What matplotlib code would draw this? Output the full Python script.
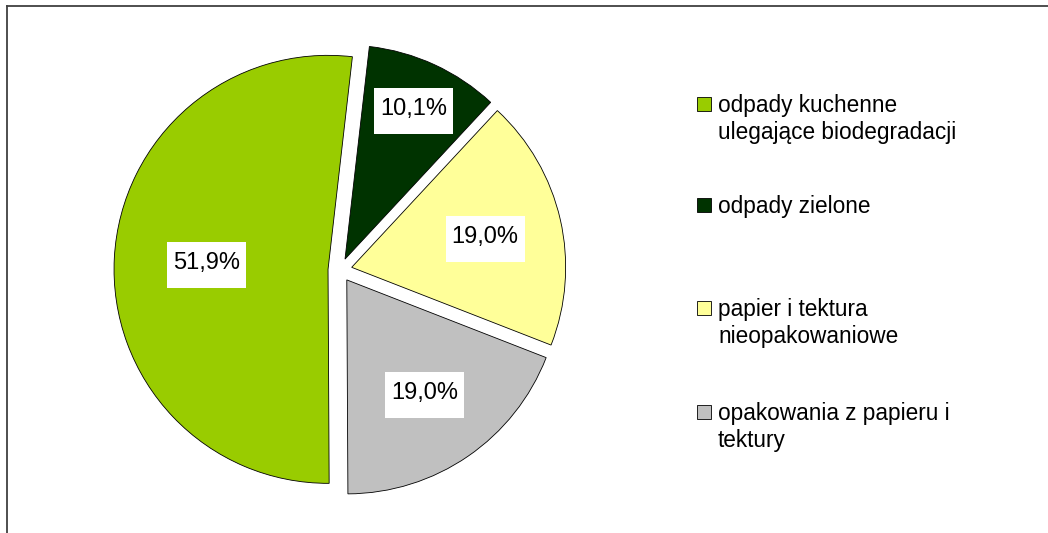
import matplotlib
matplotlib.use("Agg")
import numpy as np
import matplotlib.pyplot as plt
from matplotlib.path import Path
from matplotlib.patches import Rectangle
from matplotlib.lines import Line2D

# ---- data ----
categories = [
    "odpady kuchenne\nulegające biodegradacji",
    "odpady zielone",
    "papier i tektura\nnieopakowaniowe",
    "opakowania z papieru i\ntektury",
]
values = [51.9, 10.1, 19.0, 19.0]
colors = ["#99CC00", "#003300", "#FFFF99", "#C0C0C0"]

# ---- style ----
FONT = "Liberation Sans"
W_PX, H_PX = 1048, 533
DPI = 100
R_PX = 214.0
CX, CY = 340.0, 270.0          # pie centre, px from top-left
label_dist = [0.57, 0.77, 0.64, 0.64]

fig = plt.figure(figsize=(W_PX / DPI, H_PX / DPI), dpi=DPI)
fig.patch.set_facecolor("white")

def fx(x):
    return x / W_PX

def fy(y):
    return 1 - y / H_PX

AX_PX = 520.0
ax = fig.add_axes([fx(CX - AX_PX / 2), fy(CY + AX_PX / 2), AX_PX / W_PX, AX_PX / H_PX])
lim = AX_PX / 2 / R_PX

wedges, _ = ax.pie(
    values,
    colors=colors,
    startangle=270.3,
    counterclock=False,
    explode=[0.056] * len(values),
    radius=1.0,
    wedgeprops=dict(edgecolor="black", linewidth=0.6),
)
ax.set_xlim(-lim, lim)
ax.set_ylim(-lim, lim)
ax.set_aspect("equal")
ax.axis("off")


def label_box(x0, y0, width, height, mutation_size):
    padx = 6.0
    h = 46.0
    ymid = y0 + height / 2 - 2.0
    xa, xb = x0 - padx, x0 + width + padx
    ya, yb = ymid - h / 2, ymid + h / 2
    return Path([(xa, ya), (xb, ya), (xb, yb), (xa, yb), (xa, ya)],
                [Path.MOVETO, Path.LINETO, Path.LINETO, Path.LINETO, Path.CLOSEPOLY])


for w, v, d in zip(wedges, values, label_dist):
    mid = np.deg2rad((w.theta1 + w.theta2) / 2)
    cx, cy = w.center
    x = cx + d * np.cos(mid)
    y = cy + d * np.sin(mid)
    ax.text(x, y, f"{v:.1f}%".replace(".", ","), ha="center", va="center",
            fontsize=17, family=FONT, color="black",
            bbox=dict(boxstyle=label_box, facecolor="white", edgecolor="none"))

# ---- legend (manual, Excel-like layout) ----
legend_first_baseline = [112, 213, 316, 420]
line_step = 26.5
sq_size = 14
for lab, col, base in zip(categories, colors, legend_first_baseline):
    fig.add_artist(Rectangle((fx(697), fy(base - 1)), sq_size / W_PX, sq_size / H_PX,
                             transform=fig.transFigure, facecolor=col,
                             edgecolor="black", linewidth=0.6))
    for i, line in enumerate(lab.split("\n")):
        fig.text(fx(718), fy(base + i * line_step), line, ha="left", va="baseline",
                 fontsize=16.3, family=FONT, color="black")

# ---- chart-area frame (left and top edges visible) ----
fig.add_artist(Line2D([fx(7), fx(7)], [0, fy(5.5)], transform=fig.transFigure,
                      color="#404040", linewidth=1.3))
fig.add_artist(Line2D([fx(7), 1], [fy(5.5), fy(5.5)], transform=fig.transFigure,
                      color="#404040", linewidth=1.3))

fig.savefig("out.png", dpi=DPI, facecolor="white")
